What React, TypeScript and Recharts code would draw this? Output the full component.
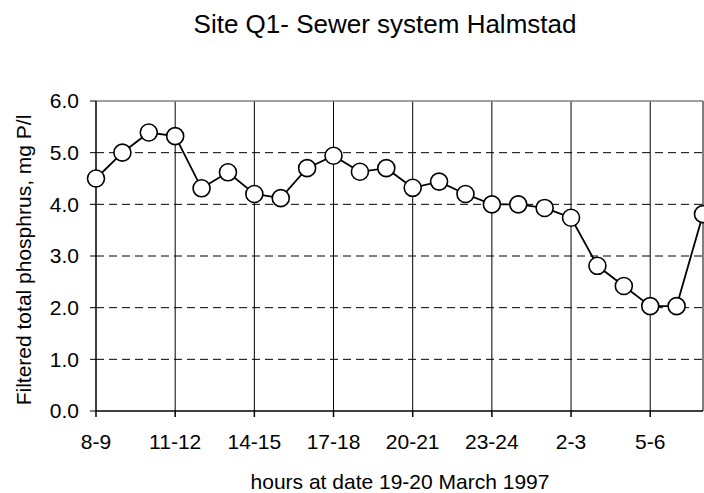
import { LineChart, Line, XAxis, YAxis, CartesianGrid, ReferenceLine } from "recharts";

const hours = [
  "8-9", "9-10", "10-11", "11-12", "12-13", "13-14", "14-15", "15-16",
  "16-17", "17-18", "18-19", "19-20", "20-21", "21-22", "22-23", "23-24",
  "0-1", "1-2", "2-3", "3-4", "4-5", "5-6", "6-7", "7-8",
];
const phosphorus = [
  4.5, 5.0, 5.39, 5.32, 4.31, 4.62, 4.2, 4.12, 4.7, 4.94, 4.63, 4.7,
  4.32, 4.44, 4.2, 4.0, 4.0, 3.93, 3.74, 2.81, 2.42, 2.03, 2.03, 3.81,
];
const yTicks = [0, 1, 2, 3, 4, 5, 6];

const data = hours.map((h, i) => ({ hour: h, p: phosphorus[i] }));

const font = '"Liberation Sans", Arial, sans-serif';

export default function App() {
  return (
    <div style={{ position: "absolute", left: 0, top: 0, width: 704, height: 493, background: "#fff", fontFamily: font }}>
      <div
        style={{
          position: "absolute", left: 385, top: 11, transform: "translateX(-50%)",
          fontSize: 26, lineHeight: "26px", whiteSpace: "nowrap", color: "#000",
        }}
      >
        Site Q1- Sewer system Halmstad
      </div>
      <div
        style={{
          position: "absolute", left: 23, top: 260, transform: "translate(-50%, -50%) rotate(-90deg)",
          fontSize: 21, lineHeight: "21px", whiteSpace: "nowrap", color: "#000",
        }}
      >
        Filtered total phosphrus, mg P/l
      </div>
      <div
        style={{
          position: "absolute", left: 400, top: 471, transform: "translateX(-50%)",
          fontSize: 21, lineHeight: "21px", whiteSpace: "nowrap", color: "#000",
        }}
      >
        hours at date 19-20 March 1997
      </div>
      <LineChart
        width={704}
        height={493}
        data={data}
        margin={{ top: 101, right: 1, left: 0, bottom: 0 }}
        style={{ position: "absolute", left: 0, top: 0 }}
      >
        <CartesianGrid vertical={false} stroke="#000" strokeDasharray="8 5" horizontalValues={[1, 2, 3, 4, 5]} />
        <CartesianGrid horizontal={false} stroke="#000" />
        <ReferenceLine y={6} stroke="#808080" strokeWidth={1.5} />
        <ReferenceLine x="7-8" stroke="#808080" strokeWidth={1.5} />
        <XAxis
          dataKey="hour"
          interval={2}
          height={82}
          padding={{ left: 0, right: 0 }}
          stroke="#000"
          strokeWidth={1.5}
          tickSize={6}
          tickMargin={17}
          tick={{ fontSize: 21, fill: "#000", fontFamily: font }}
        />
        <YAxis
          width={96}
          domain={[0, 6]}
          ticks={yTicks}
          stroke="#000"
          tickSize={6}
          tickMargin={11}
          tickFormatter={(v: number) => v.toFixed(1)}
          tick={{ fontSize: 21, fill: "#000", fontFamily: font }}
        />
        <Line
          type="linear"
          dataKey="p"
          stroke="#000"
          strokeWidth={1.8}
          dot={{ r: 8.5, fill: "#fff", stroke: "#000", strokeWidth: 1.6 }}
          isAnimationActive={false}
        />
      </LineChart>
    </div>
  );
}
